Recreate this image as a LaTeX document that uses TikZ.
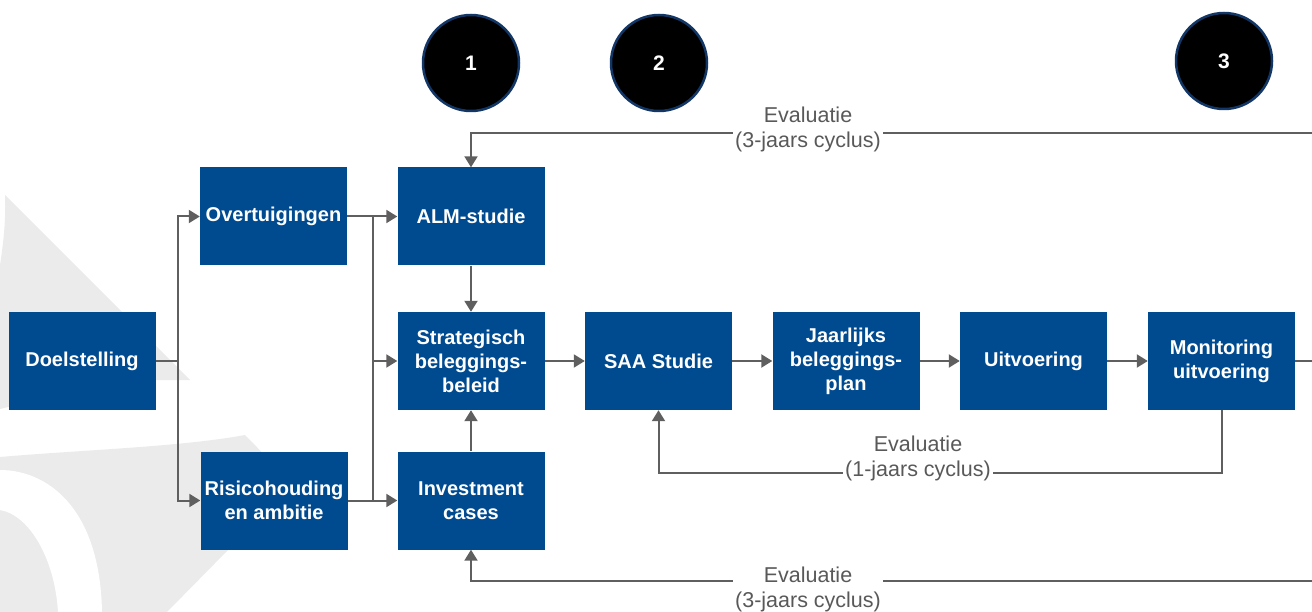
\documentclass[tikz,border=0pt]{standalone}
\usepackage{fontspec}
\setmainfont{Liberation Sans}
\usetikzlibrary{arrows.meta,calc}
\definecolor{boxblue}{RGB}{0,74,144}
\definecolor{linegray}{RGB}{95,95,95}
\definecolor{lblgray}{RGB}{89,89,89}
\definecolor{wmgray}{RGB}{235,235,235}
\definecolor{ringblue}{RGB}{18,55,102}
\begin{document}
\begin{tikzpicture}[x=1pt,y=-1pt,
  box/.style={fill=boxblue,text=white,minimum width=147pt,minimum height=98pt,
    inner sep=2pt,align=center,font=\fontsize{20}{24}\selectfont\bfseries},
  num/.style={circle,fill=black,draw=ringblue,line width=2.5pt,minimum size=96pt,
    text=white,font=\fontsize{21}{24}\selectfont\bfseries},
  conn/.style={draw=linegray,line width=2pt},
  arr/.style={conn,-{Triangle[length=11pt,width=13pt]}},
  lbl/.style={fill=white,text=lblgray,align=center,inner xsep=2pt,inner ysep=0pt,
    font=\fontsize{21.5}{25}\selectfont}]
\useasboundingbox (0,0) rectangle (1312,612);
% watermark
\fill[wmgray] (0,265) .. controls (4,240) and (6,215) .. (5,195) -- (190,380) -- (120,380) -- (8,407) -- (0,409) -- cycle;
\fill[wmgray] (0,457) .. controls (80,450) and (180,447) .. (245,435) -- (293,484) -- (167,612) -- (0,612) -- cycle;
\fill[white] (0,470) .. controls (45,470) and (100,505) .. (102,612) -- (58,612) .. controls (55,560) and (30,515) .. (0,510) -- cycle;

% numbered circles
\node[num] (c1) at (471,63) {1};
\node[num] (c2) at (659,63) {2};
\node[num] (c3) at (1224,61) {3};

% boxes
\node[box] (doel) at (82,361) {Doelstelling};
\node[box] (overt) at (273.5,216.5) {Overtuigingen};
\node[box] (risico) at (274,500.5) {Risicohouding\\en ambitie};
\node[box] (alm) at (471,216.5) {ALM-studie};
\node[box] (strat) at (471,361) {Strategisch\\beleggings-\\beleid};
\node[box] (inv) at (471,500.5) {Investment\\cases};
\node[box] (saa) at (658.5,361) {SAA Studie};
\node[box] (jaar) at (846,361) {Jaarlijks\\beleggings-\\plan};
\node[box] (uitv) at (1033.5,361) {Uitvoering};
\node[box] (mon) at (1221.5,361) {Monitoring\\uitvoering};

% helper coordinates
\coordinate (j1) at (178,361);
\coordinate (j2) at (372.5,216.5);
\coordinate (redge) at (1312,361);
\coordinate (ttop) at (1312,133);
\coordinate (tmid) at (1221.5,473);
\coordinate (tbot) at (1312,581);

% left connectors
\draw[conn] (doel.east) -- (j1);
\draw[arr] (j1) |- (overt.west);
\draw[arr] (j1) |- (risico.west);
\draw[arr] (overt.east) -- (alm.west);
\draw[arr] (risico.east) -- (inv.west);
\draw[conn] (j2) -- (j2 |- inv.west);
\draw[arr] (j2 |- strat.west) -- (strat.west);
\draw[arr] (alm.south) -- (strat.north);
\draw[arr] (inv.north) -- (strat.south);

% main chain
\draw[arr] (strat.east) -- (saa.west);
\draw[arr] (saa.east) -- (jaar.west);
\draw[arr] (jaar.east) -- (uitv.west);
\draw[arr] (uitv.east) -- (mon.west);
\draw[conn] (mon.east) -- (redge);

% evaluation loops
\draw[arr] (ttop) -- (alm.north |- ttop) -- (alm.north);
\draw[arr] (mon.south) -- (tmid) -| (saa.south);
\draw[arr] (tbot) -- (inv.south |- tbot) -- (inv.south);

\node[lbl] (l1) at (808,129.5) {Evaluatie\\(3-jaars cyclus)};
\node[lbl] (l2) at (918,458) {Evaluatie\\(1-jaars cyclus)};
\node[lbl] (l3) at (808,589.5) {Evaluatie\\(3-jaars cyclus)};
\end{tikzpicture}
\end{document}
